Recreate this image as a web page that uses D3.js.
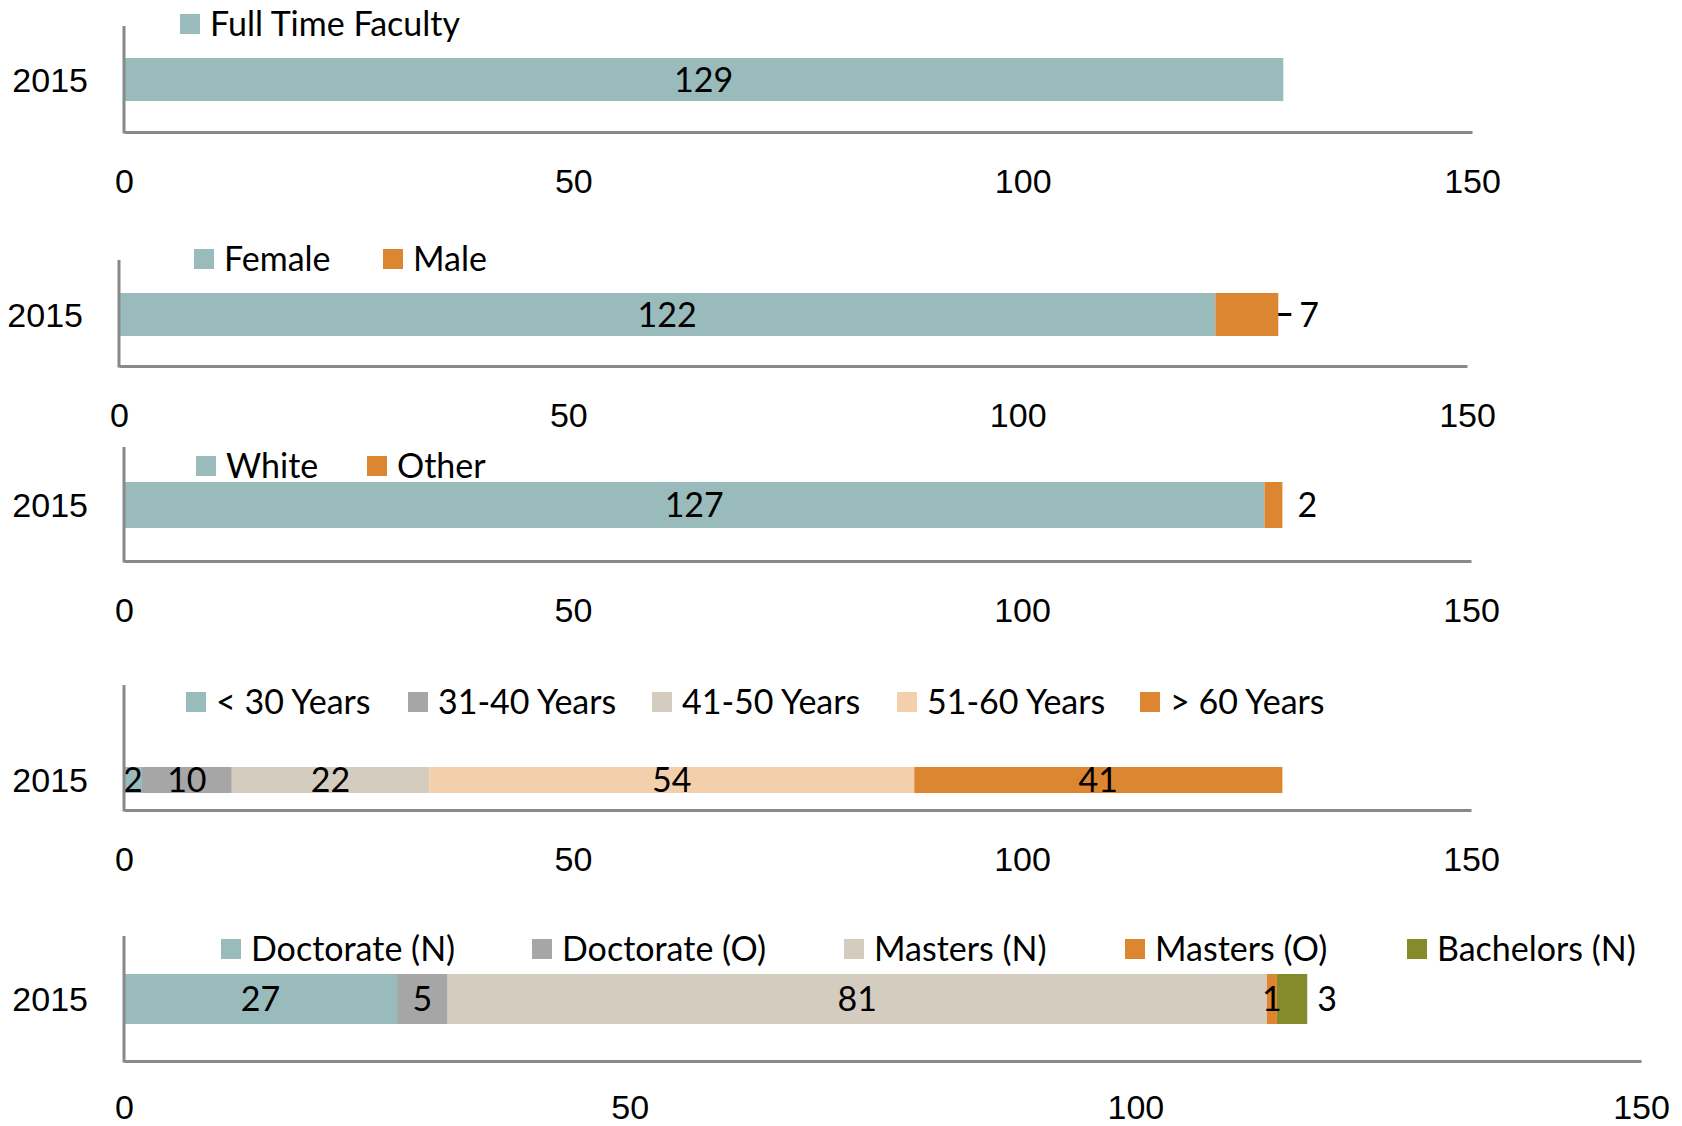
<!DOCTYPE html>
<html>
<head>
<meta charset="utf-8">
<script src="https://cdn.jsdelivr.net/npm/d3@7"></script>
<style>
body { margin: 0; background: #fff; }
svg { display: block; font-family: Lato, "Open Sans", sans-serif; }
.axis text { font-size: 34px; fill: #000; }
.legend text, .label { font-size: 34px; fill: #000; }
</style>
</head>
<body>
<svg id="chart" width="1682" height="1126"></svg>
<script>
const years = ['2015']
const xTicks = [0, 50, 100, 150]

const facultySeries = ['Full Time Faculty']
const facultyValues = [129]

const genderSeries = ['Female', 'Male']
const genderValues = [122, 7]

const raceSeries = ['White', 'Other']
const raceValues = [127, 2]

const ageSeries = ['< 30 Years', '31-40 Years', '41-50 Years', '51-60 Years', '> 60 Years']
const ageValues = [2, 10, 22, 54, 41]

const degreeSeries = ['Doctorate (N)', 'Doctorate (O)', 'Masters (N)', 'Masters (O)', 'Bachelors (N)']
const degreeValues = [27, 5, 81, 1, 3]

const teal = '#9abbbb', orange = '#dc8631', gray = '#a6a6a6',
  beige = '#d5ccc0', peach = '#f3cfab', olive = '#858a2b'

// layout of each small chart (pixels)
const panels = [
  { series: facultySeries, values: facultyValues, colors: [teal],
    left: 124, right: 1472, top: 26, axisY: 132, barTop: 58, barH: 43,
    legendX: [180], legendY: 24, outside: [], pad: 37 },
  { series: genderSeries, values: genderValues, colors: [teal, orange],
    left: 119, right: 1467, top: 260, axisY: 366, barTop: 293, barH: 43,
    legendX: [194, 383], legendY: 259, outside: ['Male'], leader: ['Male'], pad: 37 },
  { series: raceSeries, values: raceValues, colors: [teal, orange],
    left: 124, right: 1471, top: 447, axisY: 561, barTop: 482, barH: 46,
    legendX: [196, 367], legendY: 466, outside: ['Other'], pad: 37 },
  { series: ageSeries, values: ageValues, colors: [teal, gray, beige, peach, orange],
    left: 124, right: 1471, top: 685, axisY: 810, barTop: 767, barH: 26,
    legendX: [186, 408, 652, 897, 1140], legendY: 702, outside: [], pad: 37 },
  { series: degreeSeries, values: degreeValues, colors: [teal, gray, beige, orange, olive],
    left: 124, right: 1641, top: 936, axisY: 1061, barTop: 974, barH: 50,
    legendX: [221, 532, 844, 1125, 1407], legendY: 949, outside: ['Bachelors (N)'], pad: 34, gap: 10 }
]

const svg = d3.select('#chart')

function drawPanel(p){
  const row = { year: years[0] }
  p.series.forEach((s, i) => { row[s] = p.values[i] })
  const stacked = d3.stack().keys(p.series)([row])

  const x = d3.scaleLinear().domain([0, 150]).range([p.left, p.right])
  const y = d3.scaleBand().domain(years).range([p.barTop, p.barTop + p.barH])
  const color = d3.scaleOrdinal().domain(p.series).range(p.colors)

  const $g = svg.append('g')

  $g.selectAll('.seg')
    .data(stacked)
    .enter()
      .append('g')
      .attr('fill', d => color(d.key))
    .selectAll('rect')
    .data(d => d)
    .enter()
      .append('rect')
      .attr('x', d => x(d[0]))
      .attr('y', d => y(d.data.year))
      .attr('width', d => x(d[1]) - x(d[0]))
      .attr('height', y.bandwidth())

  // data labels
  const cy = y(years[0]) + y.bandwidth() / 2
  stacked.forEach(s => {
    const d = s[0]
    const out = p.outside.includes(s.key)
    const hasLeader = p.leader && p.leader.includes(s.key)
    const lx = out ? x(d[1]) + (hasLeader ? 21 : (p.gap || 15)) : (x(d[0]) + x(d[1])) / 2
    if (hasLeader) {
      $g.append('line')
        .attr('x1', x(d[1])).attr('x2', x(d[1]) + 13)
        .attr('y1', cy).attr('y2', cy)
        .attr('stroke', '#000').attr('stroke-width', 3)
    }
    $g.append('text')
      .attr('class', 'label')
      .attr('x', lx)
      .attr('y', cy)
      .attr('dy', '0.36em')
      .attr('text-anchor', out ? 'start' : 'middle')
      .text(d.data[s.key])
  })

  // value axis, labels sit well below the line
  const $x = $g.append('g')
    .attr('class', 'axis')
    .attr('transform', `translate(0,${p.axisY})`)
    .call(d3.axisBottom(x).tickValues(xTicks).tickSize(0).tickSizeOuter(0).tickPadding(p.pad))
  $x.select('.domain').attr('stroke', '#898989').attr('stroke-width', 3)
  $x.selectAll('text').attr('font-family', null)

  const $y = $g.append('g')
    .attr('class', 'axis')
    .attr('transform', `translate(${p.left},0)`)
    .call(d3.axisLeft(y).tickSize(0).tickPadding(36))
  $y.select('.domain').remove()
  $y.selectAll('text').attr('font-family', null).attr('dy', '0.36em')
  $g.append('line')
    .attr('x1', p.left).attr('x2', p.left)
    .attr('y1', p.top).attr('y2', p.axisY + 1.5)
    .attr('stroke', '#898989').attr('stroke-width', 3)

  const $leg = $g.append('g').attr('class', 'legend')
    .selectAll('g')
    .data(p.series)
    .enter()
      .append('g')
      .attr('transform', (d, i) => `translate(${p.legendX[i]},${p.legendY})`)
  $leg.append('rect')
    .attr('x', 0).attr('y', -10)
    .attr('width', 20).attr('height', 20)
    .attr('fill', d => color(d))
  $leg.append('text')
    .attr('x', 30)
    .attr('dy', '0.36em')
    .text(d => d)
}

panels.forEach(drawPanel)
</script>
</body>
</html>
